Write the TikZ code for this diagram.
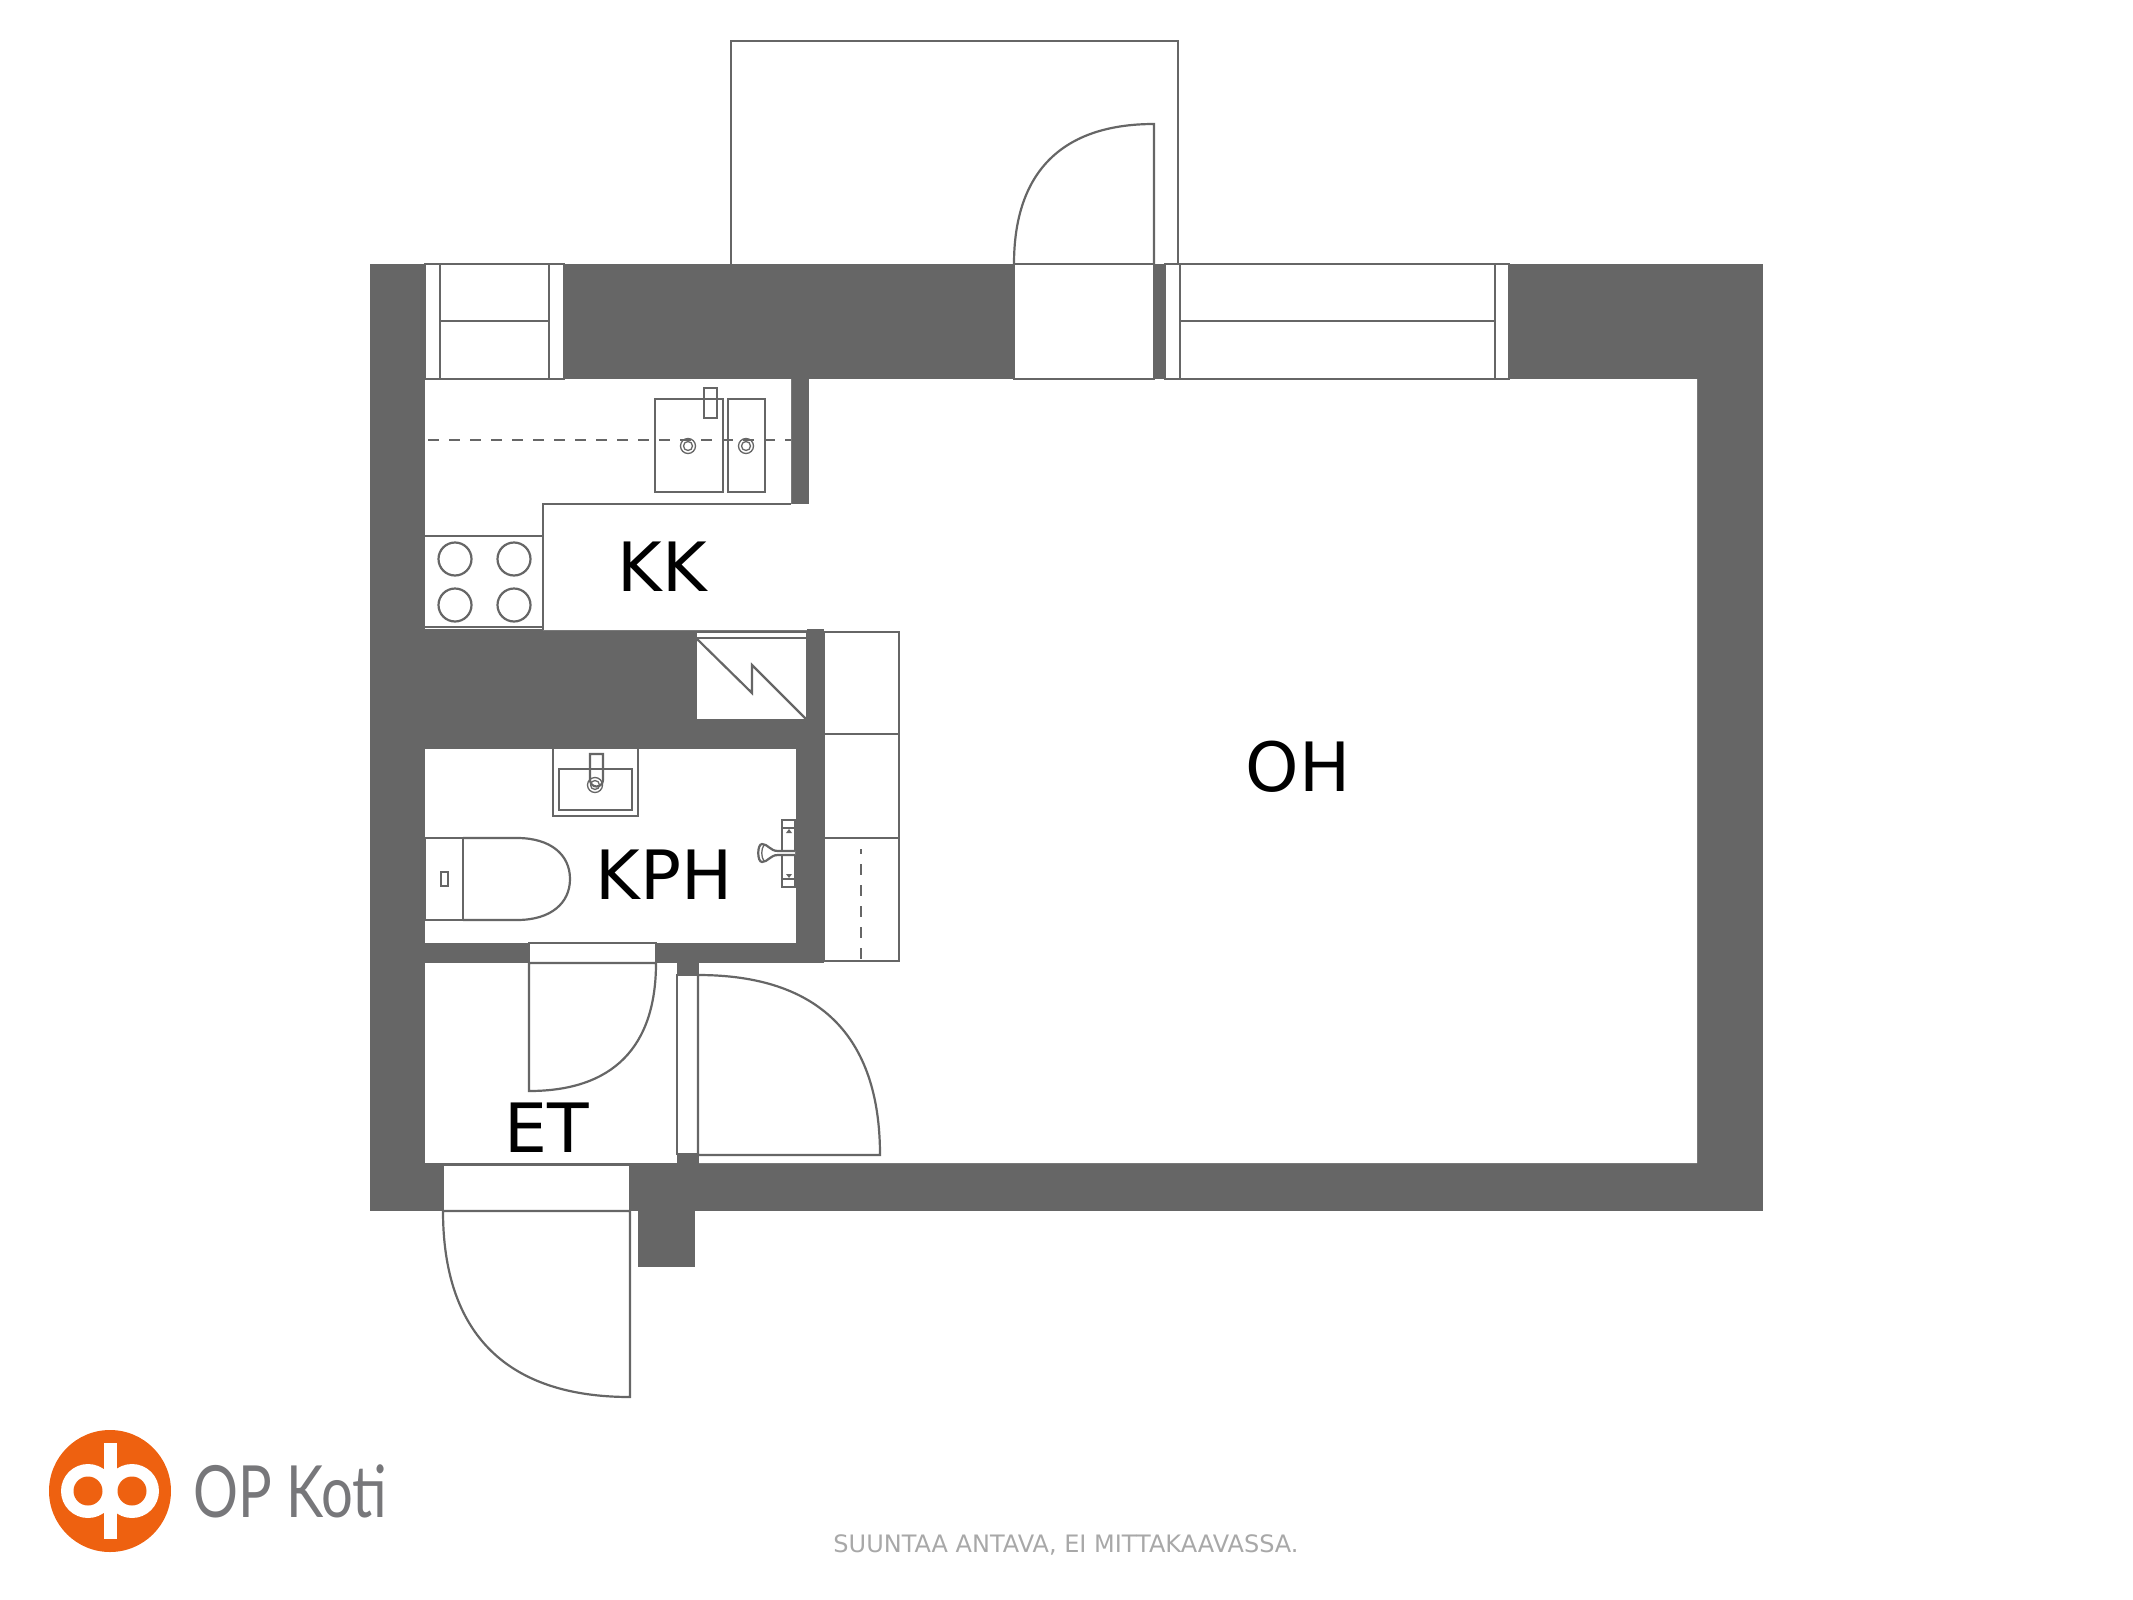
\documentclass[tikz,border=0pt]{standalone}
\usepackage{fontspec}
\usepackage{xcolor}
\setmainfont{DejaVu Sans}
\newfontfamily\logofont{Lato}
\definecolor{wallgray}{HTML}{666666}
\definecolor{capgray}{HTML}{A8A8A8}
\definecolor{logogray}{HTML}{77777A}
\definecolor{oporange}{HTML}{EE6110}
\tikzset{
    wall/.style={fill=wallgray, draw=none},
    room/.style={fill=white, draw=none},
    thin line/.style={draw=wallgray, line width=2.2pt},
    fitting/.style={draw=wallgray, line width=2.2pt, fill=white},
    hidden line/.style={draw=wallgray, line width=1.5pt, dash pattern=on 11pt off 10pt},
    roomlabel/.style={font=\fontsize{68}{68}\selectfont, text=black, inner sep=0pt, anchor=base}
}
\begin{document}
\begin{tikzpicture}[x=1pt,y=-1pt]
    \useasboundingbox (0,0) rectangle (2133,1600);
    % Balcony
    \draw[thin line] (731,264) -- (731,41) -- (1178,41) -- (1178,264);
    % Walls
    \fill[wall] (370,264) rectangle (1763,1211);
    \fill[wall] (638,1211) rectangle (695,1267);
    \fill[room] (425,379) -- (791,379) -- (791,504) -- (809,504) -- (809,379) -- (1697,379)
        -- (1697,1163) -- (699,1163) -- (699,963) -- (824,963) -- (824,630) -- (425,630) -- cycle;
    \fill[room] (425,749) rectangle (796,943);
    \fill[room] (425,963) rectangle (677,1163);
    % Windows
    \draw[fitting] (425,264) rectangle (564,379);
    \draw[thin line] (440,264) -- (440,379);
    \draw[thin line] (549,264) -- (549,379);
    \draw[thin line] (440,321) -- (549,321);
    \draw[fitting] (1165,264) rectangle (1509,379);
    \draw[thin line] (1180,264) -- (1180,379);
    \draw[thin line] (1495,264) -- (1495,379);
    \draw[thin line] (1180,321) -- (1495,321);
    % Balcony door
    \draw[fitting] (1014,264) rectangle (1154,379);
    \draw[thin line] (1014,264) .. controls (1014,172) and (1062,124) .. (1154,124) -- (1154,264);
    % Kitchen counter
    \draw[thin line] (791,504) -- (543,504) -- (543,630);
    \draw[hidden line] (428,440) -- (791,440);
    \draw[thin line] (655,399) rectangle (723,492);
    \draw[thin line] (728,399) rectangle (765,492);
    \draw[thin line] (704,388) rectangle (717,418);
    \foreach \px in {688,746} {
        \draw[thin line, line width=1.3pt] (\px,446) circle (7.5);
        \draw[thin line, line width=1.3pt] (\px,446) circle (4.5);
    }
    % Stove
    \draw[thin line] (425,536) -- (543,536);
    \draw[thin line] (425,627) -- (543,627);
    \draw[thin line] (425,630) -- (543,630);
    \foreach \px in {455,514} {
        \foreach \py in {559,605} {
            \draw[thin line] (\px,\py) circle (16.5);
        }
    }
    % Closet
    \draw[fitting] (696,632) rectangle (807,720);
    \draw[thin line] (696,638) -- (807,638);
    \draw[thin line] (696,638) -- (752,693) -- (752,665) -- (807,720);
    \fill[wall] (807,629) rectangle (824,963);
    % Wardrobes
    \draw[thin line] (824,632) rectangle (899,961);
    \draw[thin line] (824,734) -- (899,734);
    \draw[thin line] (824,838) -- (899,838);
    \draw[hidden line, dash phase=6pt] (861,849) -- (861,961);
    % Basin
    \draw[thin line] (553,749) -- (553,816) -- (638,816) -- (638,749);
    \draw[thin line] (559,769) rectangle (632,810);
    \draw[thin line] (590,754) -- (590,780) arc[start angle=180, end angle=0, radius=6.5] -- (603,754) -- cycle;
    \draw[thin line, line width=1.3pt] (595,785) circle (7.5);
    \draw[thin line, line width=1.3pt] (595,785) circle (4.5);
    % Toilet
    \draw[thin line] (425,838) rectangle (463,920);
    \draw[thin line] (463,838) -- (517,838) .. controls (551,838) and (570,855) .. (570,879)
        .. controls (570,903) and (551,920) .. (517,920) -- (463,920);
    \draw[thin line] (441,872) rectangle (448,886);
    % Shower
    \draw[thin line] (782,820) rectangle (795,887);
    \draw[thin line] (782,828) -- (795,828);
    \draw[thin line] (782,879) -- (795,879);
    \fill[wallgray] (786,833) -- (792,833) -- (789,829) -- cycle;
    \fill[wallgray] (786,874) -- (792,874) -- (789,878) -- cycle;
    \draw[thin line, fill=white] (795,851) -- (778,851) .. controls (770,851) and (768,844) .. (762,844)
        .. controls (757,844) and (757,862) .. (762,862) .. controls (768,862) and (770,855) .. (778,855) -- (795,855);
    \draw[thin line, line width=1.3pt] (764,845) .. controls (761,849) and (761,857) .. (764,861);
    % Bathroom and hall doors
    \draw[fitting] (529,943) rectangle (656,963);
    \draw[thin line, fill=white] (529,963) -- (529,1091) .. controls (613,1091) and (656,1047) .. (656,963) -- cycle;
    \draw[fitting] (677,975) rectangle (698,1154);
    \draw[thin line] (698,975) .. controls (818,975) and (880,1035) .. (880,1155) -- (698,1155) -- cycle;
    % Entrance door
    \draw[fitting] (443,1165) rectangle (630,1211);
    \draw[thin line] (443,1211) .. controls (443,1334) and (507,1397) .. (630,1397) -- (630,1211) -- cycle;
    % Labels
    \node[roomlabel] (kk) at (662,591) {KK};
    \node[roomlabel] (oh) at (1298,791) {OH};
    \node[roomlabel] (kph) at (664,899) {KPH};
    \node[roomlabel] (et) at (547,1152) {ET};
    % Logo
    \fill[oporange] (110,1491) circle (61);
    \fill[white] (88,1491) circle (27);
    \fill[white] (132,1491) circle (27);
    \fill[oporange] (88,1491) circle (14.5);
    \fill[oporange] (132,1491) circle (14.5);
    \fill[white] (103.5,1443) rectangle (116.5,1539);
    \node[font=\logofont\fontsize{72}{72}\selectfont, text=logogray, inner sep=0pt, anchor=base west, xscale=0.78] (opkoti) at (193,1517) {OP Koti};
    % Caption
    \node[font=\fontsize{24}{24}\selectfont, text=capgray, inner sep=0pt, anchor=base] (caption) at (1066,1552) {SUUNTAA ANTAVA, EI MITTAKAAVASSA.};
\end{tikzpicture}
\end{document}
